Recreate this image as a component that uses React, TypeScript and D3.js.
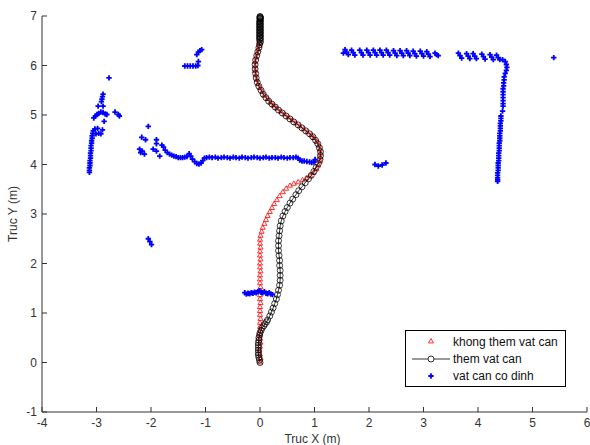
import React from "react";
import * as d3 from "d3";

// "khong them vat can" - path without added obstacle (red triangles)
const pathNoObstacle: [number, number][] = [
  [0, 0], [0.01, 0.08], [0, 0.16], [-0.01, 0.24], [0, 0.32], [0.01, 0.4], [0, 0.48], [0, 0.56],
  [0.01, 0.64], [0, 0.72], [0, 0.8], [0.01, 0.88], [0, 0.96], [0, 1.04], [0, 1.12], [0.01, 1.2],
  [0, 1.28], [0, 1.36], [0, 1.44], [0.01, 1.52], [0, 1.6], [0, 1.68], [0, 1.76], [0.01, 1.84],
  [0, 1.92], [0, 2.0], [0.01, 2.08], [0, 2.16], [0, 2.24], [0.01, 2.32], [0, 2.4], [0, 2.48],
  [0.01, 2.56], [0.03, 2.64], [0.05, 2.72], [0.08, 2.8], [0.11, 2.88], [0.14, 2.96], [0.18, 3.04],
  [0.22, 3.12], [0.26, 3.2], [0.31, 3.28], [0.36, 3.36], [0.42, 3.44], [0.48, 3.51], [0.55, 3.57],
  [0.62, 3.61], [0.7, 3.64], [0.78, 3.68], [0.85, 3.72], [0.92, 3.77], [0.98, 3.83], [1.03, 3.9],
  [1.07, 3.98], [1.1, 4.06], [1.11, 4.14], [1.11, 4.22], [1.1, 4.3], [1.08, 4.38], [1.04, 4.46],
  [0.99, 4.53], [0.94, 4.59], [0.87, 4.65], [0.8, 4.71], [0.73, 4.77], [0.66, 4.83], [0.59, 4.89],
  [0.52, 4.95], [0.45, 5.01], [0.38, 5.07], [0.31, 5.13], [0.25, 5.19], [0.19, 5.25], [0.14, 5.32],
  [0.08, 5.39], [0.04, 5.46], [0, 5.54], [-0.04, 5.62], [-0.06, 5.71], [-0.08, 5.8], [-0.09, 5.89],
  [-0.09, 5.98], [-0.09, 6.07], [-0.07, 6.16], [-0.05, 6.24], [-0.03, 6.32], [-0.01, 6.4], [0, 6.46],
];

// "them vat can" - path with added obstacle (black circles + line)
const pathWithObstacle: [number, number][] = [
  [0, 0], [-0.01, 0.05], [-0.02, 0.1], [-0.03, 0.15], [-0.03, 0.2], [-0.03, 0.25], [-0.03, 0.3],
  [-0.03, 0.35], [-0.03, 0.4], [-0.02, 0.45], [-0.02, 0.5], [-0.01, 0.55], [0, 0.6], [0.02, 0.65],
  [0.04, 0.7], [0.07, 0.74], [0.09, 0.78], [0.12, 0.82], [0.14, 0.86], [0.18, 0.94], [0.21, 1.02],
  [0.24, 1.1], [0.27, 1.19], [0.3, 1.28], [0.32, 1.37], [0.34, 1.46], [0.36, 1.56], [0.37, 1.66],
  [0.37, 1.76], [0.37, 1.86], [0.36, 1.96], [0.36, 2.06], [0.35, 2.16], [0.34, 2.26], [0.34, 2.36],
  [0.34, 2.46], [0.35, 2.56], [0.36, 2.66], [0.37, 2.76], [0.39, 2.86], [0.42, 2.96], [0.46, 3.05],
  [0.5, 3.13], [0.55, 3.22], [0.6, 3.3], [0.66, 3.39], [0.71, 3.47], [0.77, 3.55], [0.83, 3.63],
  [0.89, 3.71], [0.94, 3.78], [0.99, 3.86], [1.03, 3.94], [1.07, 4.02], [1.1, 4.1], [1.11, 4.18],
  [1.11, 4.26], [1.09, 4.34], [1.06, 4.42], [1.02, 4.49], [0.97, 4.56], [0.91, 4.62], [0.84, 4.68],
  [0.77, 4.74], [0.7, 4.8], [0.62, 4.86], [0.55, 4.92], [0.48, 4.98], [0.41, 5.04], [0.34, 5.1],
  [0.28, 5.16], [0.22, 5.22], [0.16, 5.28], [0.11, 5.35], [0.06, 5.42], [0.02, 5.5], [-0.02, 5.58],
  [-0.05, 5.66], [-0.07, 5.75], [-0.08, 5.84], [-0.09, 5.93], [-0.09, 6.02], [-0.08, 6.11],
  [-0.06, 6.2], [-0.04, 6.28], [-0.02, 6.36], [-0.01, 6.42], [0, 6.46], [0.01, 6.49], [-0.01, 6.52],
  [0, 6.54], [0.01, 6.56], [-0.01, 6.58], [0, 6.6], [0.01, 6.62], [-0.01, 6.64], [0, 6.66],
  [0.01, 6.68], [-0.01, 6.7], [0, 6.72], [0.01, 6.74], [-0.01, 6.76], [0, 6.78], [0.01, 6.8],
  [-0.01, 6.82], [0, 6.84], [0.01, 6.86], [-0.01, 6.88], [0, 6.9], [0.01, 6.92], [0, 6.94],
  [0, 6.95], [0, 6.96], [0.01, 6.97], [0, 6.98], [0, 6.99],
];

// "vat can co dinh" - fixed obstacles (blue), grouped by cluster
const obstacleLeft: [number, number][] = [
  [-3.13, 3.84], [-3.13, 3.88], [-3.13, 3.93], [-3.12, 3.98], [-3.12, 4.03], [-3.12, 4.08],
  [-3.11, 4.13], [-3.11, 4.18], [-3.11, 4.23], [-3.1, 4.28], [-3.1, 4.33], [-3.1, 4.38],
  [-3.09, 4.43], [-3.09, 4.48], [-3.08, 4.53], [-3.08, 4.58], [-3.07, 4.63], [-3.06, 4.68],
  [-3.03, 4.72], [-2.98, 4.73], [-3.01, 4.62], [-2.96, 4.63], [-2.92, 4.62], [-2.89, 4.7],
  [-3.05, 4.94], [-3.02, 4.98], [-2.99, 5.01], [-2.96, 5.03], [-2.92, 5.06], [-2.88, 5.05],
  [-2.84, 5.02], [-2.81, 5.01], [-2.86, 4.87], [-2.97, 5.18], [-2.88, 5.18], [-2.91, 5.27],
  [-2.9, 5.32], [-2.89, 5.37], [-2.88, 5.42], [-2.77, 5.75], [-2.66, 5.06], [-2.6, 5.01], [-2.58, 4.98],
];

const obstacleWall: [number, number][] = [
  [-2.05, 4.77], [-2.17, 4.55], [-2.1, 4.5], [-2.21, 4.31], [-2.16, 4.27], [-2.12, 4.21],
  [-2.19, 4.24], [-1.9, 4.5], [-1.9, 4.42], [-1.96, 4.31], [-1.9, 4.27], [-1.84, 4.17],
  [-1.8, 4.39], [-1.77, 4.35], [-1.74, 4.29], [-1.7, 4.24], [-1.66, 4.21], [-1.62, 4.19],
  [-1.58, 4.17], [-1.54, 4.16], [-1.5, 4.14], [-1.46, 4.14], [-1.42, 4.14], [-1.38, 4.15],
  [-1.34, 4.16], [-1.3, 4.22], [-1.27, 4.17], [-1.24, 4.11], [-1.2, 4.06], [-1.16, 4.02],
  [-1.12, 4.01], [-1.08, 4.03], [-1.05, 4.08], [-1.02, 4.13], [-0.98, 4.14], [-0.93, 4.15],
  [-0.88, 4.14], [-0.82, 4.15], [-0.77, 4.13], [-0.71, 4.14], [-0.66, 4.15], [-0.6, 4.14],
  [-0.55, 4.13], [-0.49, 4.15], [-0.44, 4.14], [-0.38, 4.13], [-0.33, 4.15], [-0.27, 4.14],
  [-0.22, 4.13], [-0.16, 4.14], [-0.11, 4.15], [-0.05, 4.14], [0, 4.13], [0.06, 4.14],
  [0.11, 4.15], [0.17, 4.13], [0.22, 4.14], [0.28, 4.14], [0.33, 4.13], [0.39, 4.15],
  [0.44, 4.14], [0.5, 4.13], [0.55, 4.14], [0.61, 4.14], [0.66, 4.15], [0.7, 4.13],
  [0.73, 4.09], [0.77, 4.07], [0.81, 4.07], [0.86, 4.06], [0.91, 4.05], [0.95, 4.04],
  [0.99, 4.05], [1.01, 4.1],
];

const obstacleBox: [number, number][] = [
  [-1.38, 5.99], [-1.33, 5.99], [-1.28, 5.99], [-1.23, 5.99], [-1.18, 5.99], [-1.14, 6.0],
  [-1.13, 6.08], [-1.16, 6.22], [-1.13, 6.27], [-1.1, 6.3], [-1.07, 6.32],
];

const obstacleSmall: [number, number][] = [
  [-2.05, 2.5], [-2.02, 2.44], [-1.99, 2.38],
  [2.11, 4.0], [2.17, 3.97], [2.24, 3.99], [2.31, 4.03],
  [5.39, 6.16],
];

const obstacleFront: [number, number][] = [
  [-0.28, 1.41], [-0.25, 1.38], [-0.22, 1.4], [-0.19, 1.39], [-0.16, 1.41], [-0.13, 1.4],
  [-0.1, 1.42], [-0.07, 1.41], [-0.04, 1.43], [-0.01, 1.45], [0.02, 1.42], [0.05, 1.41],
  [0.08, 1.43], [0.11, 1.4], [0.14, 1.39], [0.17, 1.41], [0.2, 1.38], [0.23, 1.37],
];

const obstacleRoom: [number, number][] = [
  [1.53, 6.25],
  [1.56, 6.32], [1.59, 6.27], [1.62, 6.22], [1.68, 6.31], [1.71, 6.26], [1.74, 6.21],
  [1.83, 6.31], [1.86, 6.26], [1.89, 6.21], [1.96, 6.31], [1.99, 6.26], [2.02, 6.21],
  [2.08, 6.31], [2.11, 6.26], [2.14, 6.21], [2.2, 6.31], [2.23, 6.26], [2.26, 6.21],
  [2.32, 6.31], [2.35, 6.26], [2.38, 6.21], [2.45, 6.3], [2.48, 6.25], [2.51, 6.2],
  [2.57, 6.3], [2.6, 6.25], [2.63, 6.2], [2.69, 6.3], [2.72, 6.25], [2.75, 6.2],
  [2.81, 6.29], [2.84, 6.24], [2.87, 6.19], [2.94, 6.29], [2.97, 6.24], [3.0, 6.19],
  [3.06, 6.28], [3.09, 6.23], [3.12, 6.18], [3.21, 6.25], [3.24, 6.22], [3.27, 6.2],
  [3.64, 6.25], [3.67, 6.2], [3.7, 6.15], [3.79, 6.24], [3.82, 6.19], [3.85, 6.14],
  [3.91, 6.24], [3.94, 6.19], [3.97, 6.14], [4.07, 6.23], [4.1, 6.18], [4.13, 6.13],
  [4.22, 6.22], [4.25, 6.17], [4.28, 6.12], [4.34, 6.21], [4.37, 6.16], [4.4, 6.12],
  [4.45, 6.12], [4.5, 6.08], [4.52, 6.02], [4.53, 5.96], [4.52, 5.9], [4.5, 5.84],
  [4.48, 5.77], [4.48, 5.71], [4.47, 5.65], [4.47, 5.59], [4.46, 5.53], [4.46, 5.47],
  [4.46, 5.41], [4.46, 5.35], [4.46, 5.29], [4.46, 5.23], [4.46, 5.18], [4.45, 5.08],
  [4.42, 4.98], [4.42, 4.93], [4.42, 4.88], [4.41, 4.83], [4.41, 4.78], [4.41, 4.73],
  [4.41, 4.68], [4.4, 4.63], [4.4, 4.58], [4.4, 4.53], [4.4, 4.48], [4.39, 4.43],
  [4.39, 4.38], [4.39, 4.33], [4.39, 4.28], [4.38, 4.23], [4.38, 4.18], [4.38, 4.13],
  [4.38, 4.08], [4.37, 4.03], [4.37, 3.98], [4.37, 3.93], [4.37, 3.88], [4.36, 3.83],
  [4.36, 3.78], [4.36, 3.73], [4.36, 3.69], [4.36, 3.66],
];

const xTicks = [-4, -3, -2, -1, 0, 1, 2, 3, 4, 5, 6];
const yTicks = [-1, 0, 1, 2, 3, 4, 5, 6, 7];
const legendLabels = ["khong them vat can", "them vat can", "vat can co dinh"];

const FONT = "Arial, 'Liberation Sans', Helvetica, sans-serif";

export default function App() {
  const width = 590,
    height = 445;

  const x = d3.scaleLinear().domain([-4, 6]).range([42, 587]);
  const y = d3.scaleLinear().domain([-1, 7]).range([412, 16]);

  const blue = [
    ...obstacleLeft,
    ...obstacleWall,
    ...obstacleBox,
    ...obstacleSmall,
    ...obstacleFront,
    ...obstacleRoom,
  ];

  const line = d3
    .line<[number, number]>()
    .x((d) => x(d[0]))
    .y((d) => y(d[1]))(pathWithObstacle);

  const tri = d3.symbol(d3.symbolTriangle, 11)();
  const cross = d3.symbol(d3.symbolCross, 16)();

  const [x0, x1] = x.range();
  const [y0, y1] = y.range();

  return (
    <svg
      width={width}
      height={height}
      style={{ position: "absolute", left: 0, top: 0, background: "#fff" }}
      fontFamily={FONT}
    >
      {/* red triangles */}
      {pathNoObstacle.map((d, i) => (
        <path
          key={"r" + i}
          d={tri}
          transform={`translate(${x(d[0])},${y(d[1])})`}
          fill="none"
          stroke="#ff0000"
          strokeWidth={0.8}
        />
      ))}
      {/* black line with circles */}
      <path d={line} fill="none" stroke="#000" strokeWidth={0.8} />
      {pathWithObstacle.map((d, i) => (
        <circle
          key={"b" + i}
          cx={x(d[0])}
          cy={y(d[1])}
          r={3}
          fill="none"
          stroke="#000"
          strokeWidth={0.75}
        />
      ))}
      {/* blue obstacle points */}
      {blue.map((d, i) => (
        <path
          key={"o" + i}
          d={cross}
          transform={`translate(${x(d[0])},${y(d[1])})`}
          fill="#0000ff"
        />
      ))}

      {/* axes */}
      <line x1={x0} x2={x1} y1={y0} y2={y0} stroke="#333" strokeWidth={1} />
      <line x1={x0} x2={x0} y1={y0} y2={y1} stroke="#333" strokeWidth={1} />
      {xTicks.map((t) => (
        <g key={"xt" + t}>
          <line x1={x(t)} x2={x(t)} y1={y0} y2={y0 - 5} stroke="#333" />
          <text x={x(t)} y={y0 + 15} textAnchor="middle" fontSize={12} fill="#333">
            {t}
          </text>
        </g>
      ))}
      {yTicks.map((t) => (
        <g key={"yt" + t}>
          <line x1={x0} x2={x0 + 5} y1={y(t)} y2={y(t)} stroke="#333" />
          <text x={x0 - 5} y={y(t) + 4} textAnchor="end" fontSize={12} fill="#333">
            {t}
          </text>
        </g>
      ))}
      <text x={(x0 + x1) / 2 - 2} y={443} textAnchor="middle" fontSize={12} fill="#333">
        Truc X (m)
      </text>
      <text
        transform={`translate(17,${(y0 + y1) / 2}) rotate(-90)`}
        textAnchor="middle"
        fontSize={12}
        fill="#333"
      >
        Truc Y (m)
      </text>

      {/* legend */}
      <g>
        <rect x={405.5} y={330.5} width={160} height={56} fill="#fff" stroke="#000" strokeWidth={1} />
        <path d={tri} transform="translate(431,341.5)" fill="none" stroke="#ff0000" strokeWidth={0.8} />
        <line x1={412} x2={450} y1={359} y2={359} stroke="#000" strokeWidth={0.8} />
        <circle cx={431} cy={359} r={3} fill="#fff" stroke="#000" strokeWidth={0.8} />
        <path d={cross} transform="translate(431,376)" fill="#0000ff" />
        {legendLabels.map((l, i) => (
          <text key={l} x={453} y={345.5 + i * 17.2} fontSize={12} fill="#111">
            {l}
          </text>
        ))}
      </g>
    </svg>
  );
}
